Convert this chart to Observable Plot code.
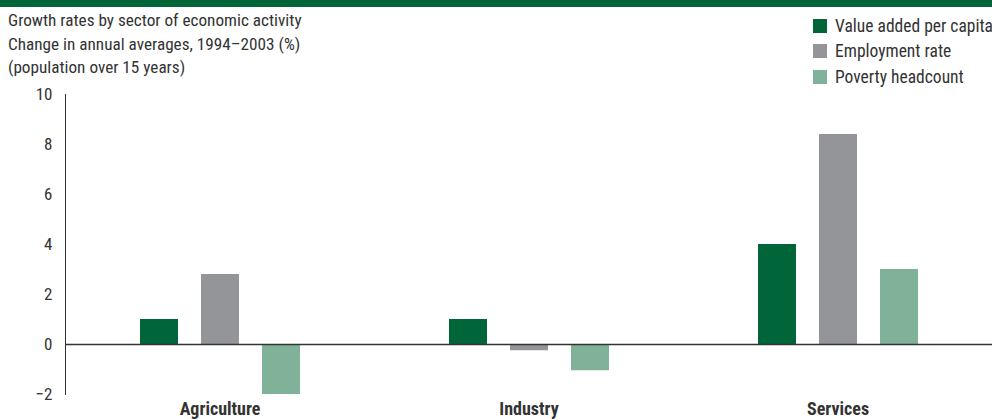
<!DOCTYPE html>
<html>
<head>
<meta charset="utf-8">
<script src="https://cdn.jsdelivr.net/npm/d3@7"></script>
<script src="https://cdn.jsdelivr.net/npm/@observablehq/plot@0.6"></script>
<style>
  html, body { margin: 0; padding: 0; background: #fff; }
  body { width: 992px; height: 419px; overflow: hidden; position: relative;
         font-family: "Liberation Sans Narrow", "Roboto Condensed", "DejaVu Sans Condensed", sans-serif; color: #333; }
  #banner { position: absolute; left: 0; top: 0; width: 992px; height: 7px; background: #00663a; }
  #titles { position: absolute; left: 8px; top: 9px; font-size: 17.2px; line-height: 23.5px; color: #333; white-space: nowrap; }
  #legend { position: absolute; left: 813px; top: 13px; font-size: 17.5px; color: #333; white-space: nowrap; }
  .li { display: flex; align-items: center; height: 25.5px; }
  .sw { width: 14px; height: 14px; margin-right: 8px; flex: none; }
  #chart { position: absolute; left: 0; top: 0; }
</style>
</head>
<body>
<div id="chart"></div>
<div id="banner"></div>
<div id="titles"></div>
<div id="legend"></div>
<script>
const titleLines = [
  "Growth rates by sector of economic activity",
  "Change in annual averages, 1994\u20132003 (%)",
  "(population over 15 years)"
];
const sectors = ["Agriculture", "Industry", "Services"];
const seriesNames = ["Value added per capita", "Employment rate", "Poverty headcount"];
const seriesColors = ["#00663a", "#939598", "#80b29a"];
const valueAdded = [1.0, 1.0, 4.0];
const employment = [2.8, -0.25, 8.4];
const poverty = [-2.0, -1.05, 3.0];
const yTicks = [-2, 0, 2, 4, 6, 8, 10];

const seriesValues = [valueAdded, employment, poverty];
const data = [];
sectors.forEach((s, i) => seriesNames.forEach((n, j) => data.push({sector: s, series: n, value: seriesValues[j][i]})));

document.getElementById("titles").innerHTML = titleLines.map(t => `<div>${t}</div>`).join("");
document.getElementById("legend").innerHTML = seriesNames.map((n, j) =>
  `<div class="li"><div class="sw" style="background:${seriesColors[j]}"></div><span>${n}</span></div>`).join("");

const chart = Plot.plot({
  width: 992,
  height: 419,
  marginLeft: 65,
  marginRight: 0,
  marginTop: 94,
  marginBottom: 25,
  style: {fontFamily: '"Liberation Sans Narrow", "Roboto Condensed", "DejaVu Sans Condensed", sans-serif', fontSize: "17px", color: "#333"},
  fx: {domain: sectors, padding: 0, axis: "bottom", label: null, tickSize: 0, tickPadding: 8},
  x: {domain: seriesNames, axis: null, paddingInner: 0.382, paddingOuter: 1.203},
  y: {domain: [-2, 10], ticks: yTicks, tickFormat: d3.format("d"), tickSize: 0, tickPadding: 13, label: null, line: true},
  color: {domain: seriesNames, range: seriesColors},
  marks: [
    Plot.barY(data, {fx: "sector", x: "series", y: "value", fill: "series"}),
    Plot.ruleY([0], {stroke: "#333", strokeWidth: 1.6})
  ]
});
document.getElementById("chart").appendChild(chart);
chart.querySelectorAll('[aria-label="fx-axis tick label"] text').forEach(t => {
  t.setAttribute("font-weight", "bold");
  t.setAttribute("font-size", "18px");
});
</script>
</body>
</html>
